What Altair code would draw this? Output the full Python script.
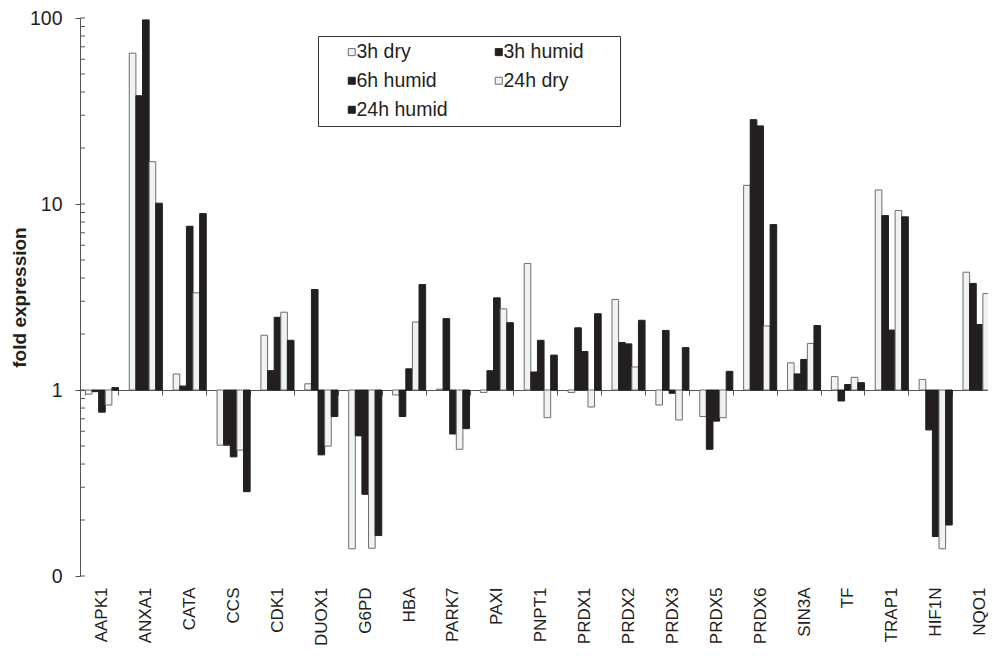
import altair as alt
import pandas as pd

genes = ["AAPK1", "ANXA1", "CATA", "CCS", "CDK1", "DUOX1", "G6PD", "HBA", "PARK7",
         "PAXI", "PNPT1", "PRDX1", "PRDX2", "PRDX3", "PRDX5", "PRDX6", "SIN3A", "TF",
         "TRAP1", "HIF1N", "NQO1"]
series = ["3h dry", "3h humid", "6h humid", "24h dry", "24h humid"]

dry_3h = [0.95, 64.7, 1.22, 0.505, 1.97, 1.08, 0.14, 0.94, 1.01, 0.97, 4.79, 0.97,
          3.07, 0.83, 0.72, 12.6, 1.40, 1.18, 11.9, 1.14, 4.30]
humid_3h = [0.98, 38.2, 1.05, 0.505, 1.27, 3.47, 0.567, 0.72, 2.42, 1.27, 1.25, 2.16,
            1.80, 2.09, 0.48, 28.4, 1.22, 0.873, 8.66, 0.61, 3.74]
humid_6h = [0.76, 97.7, 7.59, 0.437, 2.46, 0.448, 0.275, 1.30, 0.58, 3.13, 1.85, 1.61,
            1.77, 0.96, 0.68, 26.3, 1.46, 1.07, 2.10, 0.163, 2.25]
dry_24h = [0.83, 16.9, 3.33, 0.475, 2.62, 0.499, 0.141, 2.32, 0.48, 2.73, 0.71, 0.81,
           1.33, 0.69, 0.71, 2.21, 1.78, 1.17, 9.22, 0.14, 3.30]
humid_24h = [1.03, 10.1, 8.88, 0.284, 1.85, 0.72, 0.165, 3.69, 0.62, 2.30, 1.54, 2.57,
             2.37, 1.69, 1.26, 7.75, 2.22, 1.095, 8.53, 0.188, 1.44]

y_major = [0.1, 1, 10, 100]
y_minor = [0.2, 0.3, 0.4, 0.5, 0.6, 0.7, 0.8, 0.9,
           2, 3, 4, 5, 6, 7, 8, 9,
           20, 30, 40, 50, 60, 70, 80, 90]

fills = ["#f1f2f2", "#231f20", "#231f20", "#f1f2f2", "#231f20"]
strokes = ["#6d6e71", "#231f20", "#231f20", "#6d6e71", "#231f20"]
right_column = ["3h humid", "24h dry"]

rows = []
for s, vals in zip(series, [dry_3h, humid_3h, humid_6h, dry_24h, humid_24h]):
    for g, v in zip(genes, vals):
        rows.append({"gene": g, "series": s, "value": v})
df = pd.DataFrame(rows)

BAND_RANGE = 921.5   # 21 bands; the last one runs past the visible edge
W = 908
H = 558
FONT = "Liberation Sans"
AXIS_COL = "#555555"
yscale = alt.Scale(type="log", domain=[0.1, 100])
BLANK = "\u2800" * 2
pad_test = " || ".join("datum.label == '%s'" % s for s in right_column)

yaxis = alt.Axis(title="fold expression", values=y_major,
                 labelExpr="datum.value < 0.5 ? '0' : format(datum.value, 'd')",
                 tickSize=5, labelPadding=13, labelFontSize=19.5,
                 titleFontSize=19, titleFontWeight="bold",
                 titleX=-54.5, titleY=H / 2, titleAngle=270,
                 titleAlign="center", titleBaseline="alphabetic")

bars = alt.Chart(df).mark_bar(strokeWidth=1).encode(
    x=alt.X("gene:N", sort=genes,
            scale=alt.Scale(range=[0, BAND_RANGE], paddingInner=0.246, paddingOuter=0.123),
            axis=alt.Axis(title=None, orient="bottom", offset=-H / 3,
                          labelAngle=-90, labelPadding=192, tickBand="extent",
                          tickSize=5, labelFontSize=17)),
    xOffset=alt.XOffset("series:N", sort=series,
                        scale=alt.Scale(paddingInner=0, paddingOuter=0)),
    y=alt.Y("value:Q", scale=yscale, axis=yaxis),
    y2=alt.datum(1),
    fill=alt.Fill("series:N", sort=series,
                  scale=alt.Scale(domain=series, range=fills),
                  legend=alt.Legend(title=None, orient="none", legendX=238, legendY=18,
                                    columns=2, direction="horizontal",
                                    strokeColor="#333333", padding=6,
                                    symbolType="square", symbolSize=49,
                                    symbolStrokeColor="#555555", symbolStrokeWidth=1,
                                    symbolOffset=18, labelOffset={"expr": "-5"},
                                    labelFontSize=19.5, rowPadding=8,
                                    columnPadding=23,
                                    labelExpr="(" + pad_test + ") ? datum.label + '" + BLANK + "' : datum.label")),
    stroke=alt.Stroke("series:N", sort=series,
                      scale=alt.Scale(domain=series, range=strokes), legend=None),
)

minor_df = pd.DataFrame({"v": y_minor + y_major})
minor = alt.Chart(minor_df).mark_rule(color=AXIS_COL, strokeWidth=1).encode(
    y=alt.Y("v:Q", scale=yscale, axis=yaxis),
    x=alt.value(0),
    x2=alt.value(5),
)

chart = alt.layer(bars, minor).properties(
    width=W, height=H,
    autosize=alt.AutoSizeParams(type="none"),
    padding={"left": 72, "top": 10, "right": 0, "bottom": 72},
).configure_view(stroke=None).configure_axis(
    grid=False, domainColor=AXIS_COL, tickColor=AXIS_COL,
    labelColor="#231f20", titleColor="#231f20",
    labelFont=FONT, titleFont=FONT,
).configure_legend(
    labelFont=FONT, labelColor="#231f20",
)

chart.save("out.html", embed_options={"renderer": "svg", "actions": False})
